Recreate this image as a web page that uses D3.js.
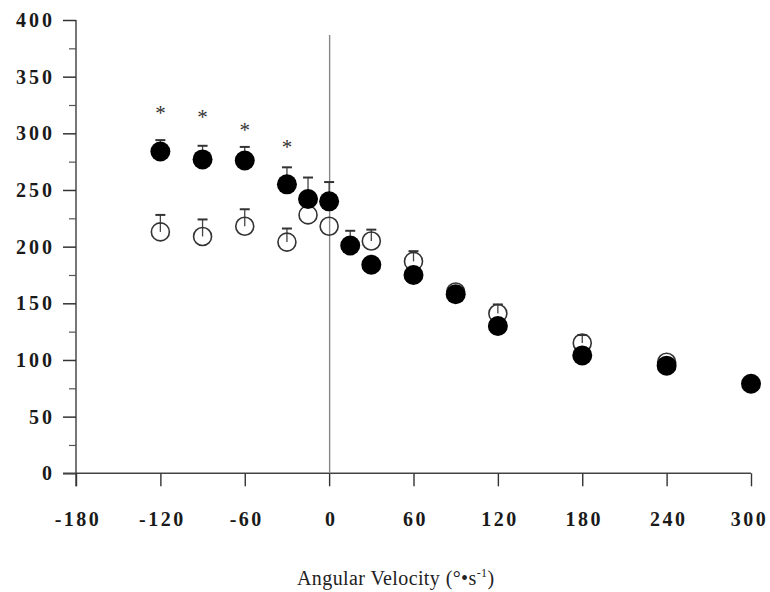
<!DOCTYPE html>
<html><head><meta charset="utf-8">
<script src="https://cdn.jsdelivr.net/npm/d3@7"></script>
<style>
body{margin:0;background:#fff;}
svg{display:block;}
.tick text{font-family:"Liberation Serif","Times New Roman",serif;font-weight:bold;font-size:20px;letter-spacing:3px;fill:#1a1a1a;}
</style></head>
<body>
<svg id="c" width="770" height="592"></svg>
<script>
const velocities = [-120, -90, -60, -30, -15, 0, 15, 30, 60, 90, 120, 180, 240, 300];
const filledVals = [284, 277, 276, 255, 242, 240, 201, 184, 175, 158, 130, 104, 95, 79];
const filledErr  = [10, 12, 12, 15, 19, 17, 13, null, null, null, null, null, null, null];
const openVel    = [-120, -90, -60, -30, -15, 0, 30, 60, 90, 120, 180, 240];
const openVals   = [213, 209, 218, 204, 228, 218, 205, 187, 160, 141, 115, 98];
const openErr    = [15, 15, 15, 12, null, null, 10, 9, null, 8, 7, null];
const starVel    = [-120, -90, -60, -30];
const starVals   = [321, 317, 306, 291];
const xTicks = [-180, -120, -60, 0, 60, 120, 180, 240, 300];
const yMajor = [0, 50, 100, 150, 200, 250, 300, 350, 400];
const yMinor = [25, 75, 125, 175, 225, 275, 325, 375];
const xTitle = "Angular Velocity (°•s";

const svg = d3.select("#c");
const x = d3.scaleLinear().domain([-180, 300]).range([76, 751]);
const y = d3.scaleLinear().domain([0, 400]).range([473.3, 20]);
const fmt = d => String(d);

// y axis
const yAxis = svg.append("g").attr("transform", `translate(${x(-180)},0)`)
  .call(d3.axisLeft(y).tickValues(yMajor).tickSize(13).tickPadding(8).tickFormat(fmt));
yAxis.select(".domain").attr("d", `M0,${y(400)}V${y(0)+13}`).attr("stroke", "#555").attr("stroke-width", 1.6);
yAxis.selectAll(".tick line").attr("stroke", "#333").attr("stroke-width", 1.5);
svg.append("g").attr("transform", `translate(${x(-180)},0)`)
  .call(d3.axisLeft(y).tickValues(yMinor).tickSize(7).tickFormat(""))
  .call(g => g.select(".domain").remove())
  .selectAll(".tick line").attr("stroke", "#555").attr("stroke-width", 1.2);

// x axis
const xAxis = svg.append("g").attr("transform", `translate(0,${y(0)})`)
  .call(d3.axisBottom(x).tickValues(xTicks).tickSize(13).tickPadding(26).tickFormat(fmt));
xAxis.select(".domain").attr("d", `M${x(-180)-13},0H${x(300)}`).attr("stroke", "#444").attr("stroke-width", 1.6);
xAxis.selectAll(".tick line").attr("stroke", "#333").attr("stroke-width", 1.4);
xAxis.selectAll(".tick text").attr("dx", "1.5px").style("letter-spacing", "2.5px");
xAxis.selectAll(".tick text").filter(d => d === 300).attr("dx", "-2px");

// vertical zero line
svg.append("line").attr("x1", x(0)+0.5).attr("x2", x(0)+0.5).attr("y1", 35).attr("y2", y(0))
  .attr("stroke", "#888").attr("stroke-width", 1.4);

// axis title
const t = svg.append("text").attr("x", 297).attr("y", 585)
  .attr("font-family", "Liberation Serif, Times New Roman, serif").attr("font-size", 20)
  .attr("letter-spacing", "0.4px").attr("fill", "#222");
t.append("tspan").text(xTitle);
t.append("tspan").attr("font-size", 12).attr("dy", -8).text("-1");
t.append("tspan").attr("dy", 8).text(")");

function errBars(vels, vals, errs) {
  vels.forEach((v, i) => {
    if (errs[i] == null) return;
    const cx = x(v), top = y(vals[i] + errs[i]);
    svg.append("line").attr("x1", cx).attr("x2", cx).attr("y1", y(vals[i])).attr("y2", top)
      .attr("stroke", "#444").attr("stroke-width", 1.3);
    svg.append("line").attr("x1", cx - 5).attr("x2", cx + 5).attr("y1", top).attr("y2", top)
      .attr("stroke", "#333").attr("stroke-width", 2);
  });
}

// open series
errBars(openVel, openVals, openErr);
svg.selectAll("circle.open").data(openVel).enter().append("circle").attr("class", "open")
  .attr("cx", d => x(d)).attr("cy", (d, i) => y(openVals[i])).attr("r", 9)
  .attr("fill", "none").attr("stroke", "#333").attr("stroke-width", 1.6);

// filled series
errBars(velocities, filledVals, filledErr);
svg.selectAll("circle.fill").data(velocities).enter().append("circle").attr("class", "fill")
  .attr("cx", d => x(d)).attr("cy", (d, i) => y(filledVals[i])).attr("r", 10)
  .attr("fill", "#000");

// significance asterisks
svg.selectAll("text.star").data(starVel).enter().append("text").attr("class", "star")
  .attr("x", d => x(d)).attr("y", (d, i) => y(starVals[i]) + 10)
  .attr("text-anchor", "middle").attr("font-family", "Liberation Serif, serif").attr("font-size", 21)
  .attr("fill", "#333").text("*");
</script>
</body></html>
